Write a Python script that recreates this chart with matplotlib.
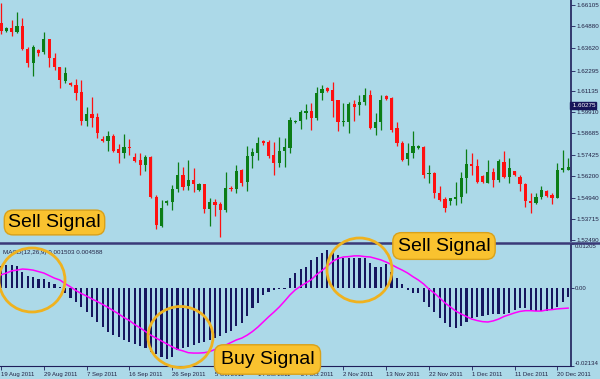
import matplotlib
matplotlib.use("Agg")
import matplotlib.pyplot as plt
import numpy as np
from matplotlib.patches import Ellipse
from matplotlib.lines import Line2D
import matplotlib.transforms as mtransforms

# ---------------- data ----------------
opens = [1.6506, 1.6460, 1.6477, 1.6454, 1.6489, 1.6356, 1.6275, 1.6350, 1.6338, 1.6414,
         1.6304, 1.6252, 1.6171, 1.6159, 1.6147, 1.6107, 1.5939, 1.5979, 1.5962, 1.5835,
         1.5823, 1.5852, 1.5777, 1.5754, 1.5788, 1.5730, 1.5713, 1.5684, 1.5730, 1.5499,
         1.5331, 1.5464, 1.5470, 1.5545, 1.5626, 1.5563, 1.5597, 1.5539, 1.5574, 1.5430,
         1.5470, 1.5458, 1.5424, 1.5551, 1.5545, 1.5655, 1.5586, 1.5736, 1.5754, 1.5823,
         1.5817, 1.5742, 1.5696, 1.5765, 1.5783, 1.5933, 1.5939, 1.5985, 1.5997, 1.5956,
         1.6101, 1.6130, 1.6118, 1.6060, 1.5933, 1.5933, 1.6037, 1.6031, 1.6049, 1.6089,
         1.5899, 1.5933, 1.6084, 1.6072, 1.5899, 1.5812, 1.5719, 1.5754, 1.5783, 1.5788,
         1.5632, 1.5638, 1.5522, 1.5487, 1.5476, 1.5487, 1.5499, 1.5609, 1.5690, 1.5678,
         1.5620, 1.5580, 1.5643, 1.5597, 1.5701, 1.5615, 1.5649, 1.5615, 1.5574, 1.5476,
         1.5464, 1.5499, 1.5534, 1.5510, 1.5494, 1.5655, 1.5655]
highs = [1.6620, 1.6483, 1.6524, 1.6570, 1.6535, 1.6367, 1.6379, 1.6356, 1.6454, 1.6416,
         1.6333, 1.6254, 1.6252, 1.6165, 1.6182, 1.6176, 1.6020, 1.6078, 1.5985, 1.5852,
         1.5881, 1.5864, 1.5806, 1.5864, 1.5835, 1.5754, 1.5754, 1.5742, 1.5736, 1.5510,
         1.5482, 1.5482, 1.5568, 1.5701, 1.5672, 1.5713, 1.5666, 1.5580, 1.5576, 1.5494,
         1.5487, 1.5470, 1.5643, 1.5563, 1.5684, 1.5661, 1.5794, 1.5783, 1.5846, 1.5829,
         1.5829, 1.5817, 1.5846, 1.5841, 1.5962, 1.5945, 1.6003, 1.6037, 1.6043, 1.6136,
         1.6147, 1.6136, 1.6165, 1.6063, 1.6043, 1.6049, 1.6060, 1.6089, 1.6130, 1.6118,
         1.5985, 1.6089, 1.6089, 1.6078, 1.5933, 1.5823, 1.5812, 1.5881, 1.5800, 1.5794,
         1.5684, 1.5643, 1.5563, 1.5499, 1.5494, 1.5586, 1.5643, 1.5777, 1.5754, 1.5719,
         1.5626, 1.5713, 1.5666, 1.5719, 1.5765, 1.5725, 1.5649, 1.5626, 1.5580, 1.5522,
         1.5522, 1.5563, 1.5539, 1.5522, 1.5696, 1.5771, 1.5725]
lows = [1.6443, 1.6454, 1.6431, 1.6448, 1.6350, 1.6252, 1.6200, 1.6315, 1.6327, 1.6252,
        1.6234, 1.6130, 1.6159, 1.6142, 1.6060, 1.5916, 1.5910, 1.5905, 1.5841, 1.5817,
        1.5765, 1.5759, 1.5696, 1.5725, 1.5742, 1.5701, 1.5626, 1.5649, 1.5494, 1.5314,
        1.5326, 1.5453, 1.5424, 1.5528, 1.5539, 1.5539, 1.5528, 1.5533, 1.5406, 1.5331,
        1.5389, 1.5267, 1.5412, 1.5534, 1.5522, 1.5563, 1.5534, 1.5666, 1.5713, 1.5800,
        1.5725, 1.5626, 1.5672, 1.5672, 1.5754, 1.5928, 1.5893, 1.5950, 1.5887, 1.5945,
        1.6060, 1.6107, 1.5962, 1.5881, 1.5910, 1.5869, 1.5939, 1.5974, 1.6031, 1.5893,
        1.5858, 1.5887, 1.6060, 1.5876, 1.5794, 1.5707, 1.5684, 1.5725, 1.5777, 1.5609,
        1.5580, 1.5494, 1.5476, 1.5412, 1.5453, 1.5453, 1.5464, 1.5522, 1.5626, 1.5580,
        1.5580, 1.5580, 1.5557, 1.5586, 1.5609, 1.5580, 1.5620, 1.5534, 1.5441, 1.5406,
        1.5458, 1.5487, 1.5499, 1.5458, 1.5490, 1.5643, 1.5655]
closes = [1.6460, 1.6477, 1.6454, 1.6489, 1.6356, 1.6275, 1.6367, 1.6333, 1.6414, 1.6304,
          1.6252, 1.6176, 1.6217, 1.6147, 1.6101, 1.5939, 1.5979, 1.5956, 1.5869, 1.5823,
          1.5852, 1.5765, 1.5754, 1.5788, 1.5783, 1.5707, 1.5684, 1.5730, 1.5499, 1.5337,
          1.5435, 1.5476, 1.5545, 1.5626, 1.5557, 1.5597, 1.5574, 1.5574, 1.5430, 1.5470,
          1.5453, 1.5424, 1.5551, 1.5545, 1.5649, 1.5580, 1.5736, 1.5759, 1.5812, 1.5812,
          1.5736, 1.5696, 1.5765, 1.5788, 1.5945, 1.5939, 1.5991, 1.5997, 1.5956, 1.6101,
          1.6124, 1.6113, 1.6055, 1.5933, 1.5939, 1.6037, 1.6020, 1.6049, 1.6089, 1.5899,
          1.5933, 1.6060, 1.6066, 1.5887, 1.5812, 1.5713, 1.5754, 1.5794, 1.5794, 1.5626,
          1.5638, 1.5522, 1.5482, 1.5435, 1.5494, 1.5499, 1.5609, 1.5690, 1.5678, 1.5586,
          1.5586, 1.5643, 1.5597, 1.5707, 1.5615, 1.5666, 1.5626, 1.5574, 1.5476, 1.5464,
          1.5499, 1.5539, 1.5505, 1.5494, 1.5655, 1.5666, 1.5672]

macd_hist = [0.0060, 0.0063, 0.0063, 0.0060, 0.0044, 0.0033, 0.0030, 0.0025, 0.0025, 0.0016,
             0.0011, 0.0003, -0.0014, -0.0027, -0.0038, -0.0052, -0.0066, -0.0079, -0.0093, -0.0107,
             -0.0120, -0.0129, -0.0134, -0.0142, -0.0148, -0.0153, -0.0159, -0.0164, -0.0175, -0.0181,
             -0.0189, -0.0194, -0.0189, -0.0170, -0.0164, -0.0161, -0.0156, -0.0151, -0.0148, -0.0142,
             -0.0137, -0.0131, -0.0123, -0.0118, -0.0104, -0.0096, -0.0077, -0.0055, -0.0041, -0.0019,
             -0.0011, -0.0005, -0.0003, -0.0003, 0.0027, 0.0041, 0.0052, 0.0057, 0.0077, 0.0085,
             0.0096, 0.0104, 0.0099, 0.0090, 0.0082, 0.0082, 0.0082, 0.0082, 0.0082, 0.0068,
             0.0057, 0.0057, 0.0066, 0.0044, 0.0027, 0.0011, -0.0005, -0.0014, -0.0014, -0.0038,
             -0.0052, -0.0066, -0.0082, -0.0096, -0.0107, -0.0109, -0.0104, -0.0093, -0.0082, -0.0079,
             -0.0077, -0.0074, -0.0071, -0.0071, -0.0071, -0.0068, -0.0060, -0.0055, -0.0055, -0.0060,
             -0.0063, -0.0063, -0.0063, -0.0060, -0.0052, -0.0038, -0.0025]
macd_signal = [0.0036, 0.0041, 0.0047, 0.0049, 0.0052, 0.0051, 0.0049, 0.0045, 0.0041, 0.0034,
               0.0027, 0.0022, 0.0012, 0.0003, -0.0007, -0.0015, -0.0022, -0.0030, -0.0037, -0.0045,
               -0.0053, -0.0062, -0.0071, -0.0081, -0.0089, -0.0100, -0.0109, -0.0119, -0.0129, -0.0137,
               -0.0145, -0.0153, -0.0161, -0.0168, -0.0172, -0.0177, -0.0178, -0.0178, -0.0177, -0.0174,
               -0.0168, -0.0161, -0.0156, -0.0149, -0.0142, -0.0137, -0.0129, -0.0119, -0.0107, -0.0093,
               -0.0079, -0.0066, -0.0052, -0.0036, -0.0019, -0.0005, 0.0005, 0.0014, 0.0023, 0.0037,
               0.0048, 0.0060, 0.0073, 0.0081, 0.0085, 0.0086, 0.0088, 0.0088, 0.0086, 0.0085,
               0.0081, 0.0077, 0.0071, 0.0064, 0.0056, 0.0049, 0.0041, 0.0031, 0.0022, 0.0011,
               -0.0003, -0.0014, -0.0027, -0.0041, -0.0052, -0.0063, -0.0071, -0.0078, -0.0085, -0.0089,
               -0.0092, -0.0093, -0.0090, -0.0085, -0.0078, -0.0073, -0.0068, -0.0064, -0.0062, -0.0062,
               -0.0063, -0.0063, -0.0060, -0.0059, -0.0057, -0.0056, -0.0055]

date_index = [0, 8, 16, 24, 32, 40, 48, 56, 64, 72, 80, 88, 96, 104]
date_labels = ["19 Aug 2011", "29 Aug 2011", "7 Sep 2011", "16 Sep 2011", "26 Sep 2011",
               "5 Oct 2011", "14 Oct 2011", "24 Oct 2011", "2 Nov 2011", "13 Nov 2011",
               "22 Nov 2011", "1 Dec 2011", "11 Dec 2011", "20 Dec 2011"]
price_ticks = [1.66105, 1.64880, 1.63620, 1.62295, 1.61135, 1.59910, 1.58685,
               1.57425, 1.56200, 1.54940, 1.53715, 1.52490]
current_price = 1.60275
macd_ticks = [0.01205, 0.0, -0.02134]
macd_tick_labels = ["0.01205", "0.00", "-0.02134"]
macd_title = "MACD(12,26,9) 0.001503 0.004588"

# ---------------- style ----------------
BG = "#ACD9E8"
NAVY = "#1E1E5A"
RED = "#FF1010"
GREEN = "#0B7D16"
GOLD = "#EFB21F"
BOXFC = "#F9C22F"
BOXEC = "#D9A11A"
W, H = 600, 379

fig = plt.figure(figsize=(6.0, 3.79), dpi=100)
fig.patch.set_facecolor(BG)

def fx(px):
    return px / W

def fy(py):
    return 1 - py / H

ax1 = fig.add_axes([0, fy(241), fx(571), 241 / H])
ax2 = fig.add_axes([0, fy(366), fx(571), 122 / H])

n = len(opens)
x = np.arange(n)
o = np.array(opens); c = np.array(closes)
hi = np.array(highs); lo = np.array(lows)
cols = [GREEN if cc >= oo else RED for oo, cc in zip(o, c)]

for ax in (ax1, ax2):
    ax.set_facecolor(BG)
    for s in ("top", "left", "bottom"):
        ax.spines[s].set_visible(False)
    ax.spines["right"].set_color(NAVY)
    ax.spines["right"].set_linewidth(1.2)
    ax.set_xlim(-0.19, 106.54)

# candles
ax1.vlines(x, lo, hi, colors=cols, linewidth=0.9)
body_bottom = np.minimum(o, c)
body_h = np.maximum(np.abs(c - o), 0.00025)
ax1.bar(x, body_h, bottom=body_bottom, width=0.6, color=cols, linewidth=0)
ax1.set_ylim(1.52432, 1.66395)
ax1.yaxis.tick_right()
ax1.set_yticks(price_ticks)
ax1.set_yticklabels([f"{v:.5f}" for v in price_ticks])
ax1.tick_params(axis="y", length=3, width=0.6, colors=NAVY, pad=1.0,
                labelsize=4.5, labelcolor="#222244")
ax1.set_xticks([])
for lab in ax1.get_yticklabels():
    lab.set_family("Liberation Sans")

# current price marker
tr = mtransforms.blended_transform_factory(ax1.transAxes, ax1.transData)
ax1.text(1.0, current_price, f" {current_price:.5f}", transform=tr, ha="left", va="center",
         fontsize=4.5, family="Liberation Sans", color="white", clip_on=False,
         bbox=dict(boxstyle="square,pad=0.15", fc="#16165A", ec="#16165A"))

# MACD
ax2.bar(x, macd_hist, width=0.4, color="#16165E", linewidth=0)
ax2.plot(x, macd_signal, color="#FF00FF", linewidth=1.1)
ax2.set_ylim(-0.02134, 0.01205)
ax2.yaxis.tick_right()
ax2.set_yticks(macd_ticks)
ax2.set_yticklabels(macd_tick_labels)
ax2.tick_params(axis="y", length=2, width=0.6, colors=NAVY, pad=0.5,
                labelsize=4.3, labelcolor="#222244")
ylabs = ax2.get_yticklabels()
ylabs[0].set_va("top")
ylabs[2].set_va("bottom")
for lab in ylabs:
    lab.set_family("Liberation Sans")
ax2.spines["bottom"].set_visible(True)
ax2.spines["bottom"].set_color(NAVY)
ax2.spines["bottom"].set_linewidth(0.8)
ax2.set_xticks(date_index)
ax2.set_xticklabels(date_labels, ha="left")
ax2.tick_params(axis="x", length=3, width=0.6, colors=NAVY, pad=1,
                labelsize=4.3, labelcolor="#222244")
for lab in ax2.get_xticklabels():
    lab.set_family("Liberation Sans")
ax2.text(0.005, 0.95, macd_title, transform=ax2.transAxes, ha="left", va="top",
         fontsize=4.5, family="Liberation Sans", color="#222244")

# separator between panes
fig.add_artist(Line2D([0, 1], [fy(242.5)] * 2, transform=fig.transFigure,
                      color="#3A3A78", linewidth=1.8, zorder=2))

# circles
for cx, cy, rx, ry in [(32, 280, 33, 32), (180.5, 337, 32.5, 30.5), (359.5, 270, 32.5, 32)]:
    fig.add_artist(Ellipse((fx(cx), fy(cy)), 2 * rx / W, 2 * ry / H,
                           transform=fig.transFigure, fill=False,
                           edgecolor=GOLD, linewidth=2.0, zorder=3))

# signal boxes
for tx, ty, txt, pad in [(54.5, 222.5, "Sell Signal", 0.2), (444, 246, "Sell Signal", 0.25),
                         (267.5, 359.5, "Buy Signal", 0.32)]:
    fig.text(fx(tx), fy(ty), txt, ha="center", va="center", fontsize=14,
             family="Liberation Sans", color="black", zorder=5,
             bbox=dict(boxstyle=f"round,pad={pad},rounding_size=0.45", fc=BOXFC, ec=BOXEC, lw=1.0))

fig.savefig("out.png", dpi=100, facecolor=BG)
